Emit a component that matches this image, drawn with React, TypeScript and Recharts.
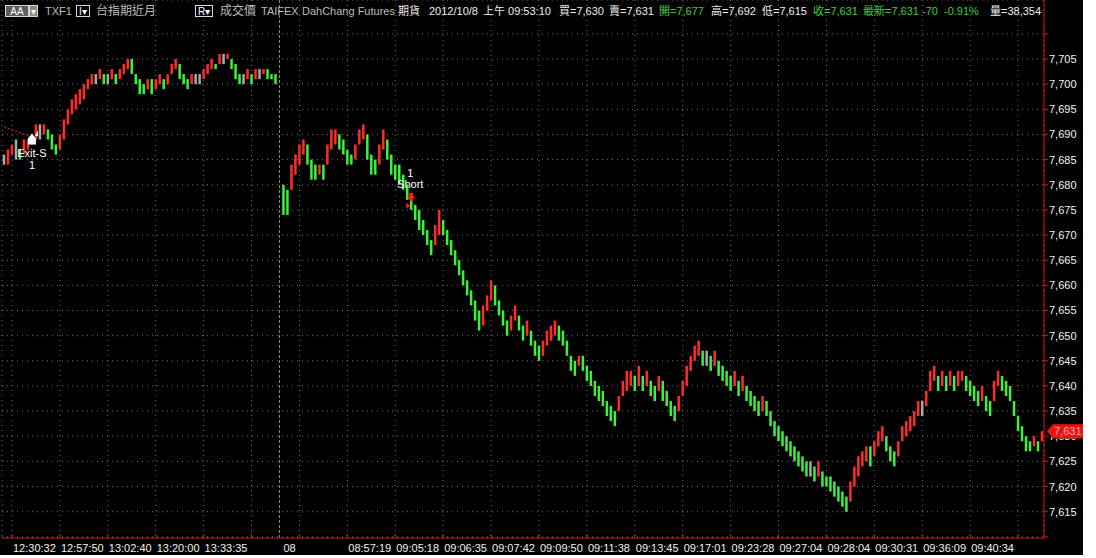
import {
  Bar,
  CartesianGrid,
  ComposedChart,
  ReferenceDot,
  ReferenceLine,
  XAxis,
  YAxis,
} from "recharts";

// afternoon session of the previous day (bar by bar, low / high)
const lows1 = [
  7684, 7684, 7686, 7685, 7685, 7686, 7687, 7688, 7689, 7689,
  7690, 7689, 7687, 7686, 7687, 7689, 7692, 7694, 7695, 7696,
  7697, 7699, 7700, 7700, 7701, 7700, 7700, 7701, 7700, 7701,
  7702, 7703, 7702, 7700, 7698, 7698, 7699, 7698, 7699, 7700,
  7699, 7700, 7702, 7703, 7701, 7700, 7699, 7700, 7700, 7700,
  7701, 7702, 7703, 7703, 7704, 7704, 7705, 7703, 7701, 7700,
  7700, 7701, 7700, 7701, 7701, 7702, 7701, 7701, 7700,
];
const highs1 = [
  7686, 7687, 7688, 7689, 7687, 7689, 7689, 7690, 7692, 7692,
  7692, 7691, 7690, 7688, 7690, 7693, 7695, 7697, 7698, 7699,
  7700, 7701, 7702, 7702, 7703, 7702, 7702, 7703, 7702, 7703,
  7704, 7705, 7705, 7702, 7701, 7700, 7701, 7701, 7701, 7702,
  7701, 7702, 7704, 7705, 7704, 7702, 7701, 7702, 7702, 7702,
  7703, 7704, 7705, 7704, 7706, 7706, 7706, 7705, 7704, 7702,
  7702, 7703, 7702, 7703, 7703, 7703, 7703, 7702, 7702,
];

// morning session of 10/8
const lows2 = [
  7674, 7674, 7679, 7682, 7684, 7686, 7684, 7681, 7681, 7682,
  7681, 7684, 7687, 7688, 7687, 7686, 7684, 7684, 7685, 7688,
  7689, 7685, 7682, 7682, 7684, 7687, 7685, 7682, 7681, 7680,
  7679, 7677, 7675, 7673, 7671, 7670, 7668, 7666, 7668, 7670,
  7670, 7668, 7666, 7664, 7662, 7660, 7658, 7656, 7653, 7651,
  7652, 7655, 7657, 7656, 7654, 7652, 7650, 7651, 7653, 7651,
  7649, 7650, 7648, 7646, 7645, 7646, 7648, 7649, 7650, 7649,
  7648, 7646, 7643, 7642, 7644, 7643, 7641, 7640, 7638, 7637,
  7636, 7634, 7633, 7632, 7635, 7638, 7639, 7640, 7639, 7640,
  7639, 7640, 7638, 7637, 7639, 7637, 7636, 7634, 7633, 7635,
  7638, 7640, 7643, 7645, 7646, 7644, 7644, 7643, 7644, 7642,
  7641, 7640, 7639, 7640, 7638, 7639, 7637, 7636, 7635, 7634,
  7635, 7634, 7632, 7630, 7629, 7628, 7627, 7626, 7625, 7624,
  7623, 7622, 7622, 7621, 7622, 7620, 7620, 7619, 7618, 7617,
  7616, 7615, 7617, 7620, 7622, 7624, 7625, 7624, 7626, 7628,
  7629, 7627, 7625, 7624, 7626, 7629, 7630, 7631, 7632, 7634,
  7634, 7636, 7639, 7641, 7639, 7640, 7639, 7640, 7639, 7640,
  7641, 7639, 7638, 7637, 7636, 7637, 7635, 7634, 7637, 7640,
  7639, 7638, 7637, 7634, 7631, 7629, 7627, 7627, 7628, 7627,
  7629,
];
const highs2 = [
  7680, 7679, 7684, 7686, 7688, 7689, 7688, 7685, 7684, 7684,
  7684, 7688, 7691, 7691, 7690, 7689, 7687, 7686, 7688, 7691,
  7692, 7690, 7686, 7685, 7688, 7691, 7689, 7686, 7684, 7684,
  7682, 7680, 7678, 7676, 7675, 7673, 7671, 7669, 7672, 7675,
  7673, 7671, 7669, 7667, 7665, 7663, 7661, 7659, 7657, 7655,
  7656, 7658, 7661, 7660, 7657, 7655, 7653, 7654, 7656, 7654,
  7652, 7653, 7651, 7649, 7648, 7649, 7651, 7652, 7653, 7652,
  7651, 7649, 7646, 7645, 7646, 7646, 7644, 7643, 7641, 7640,
  7639, 7637, 7636, 7635, 7638, 7641, 7643, 7643, 7642, 7644,
  7642, 7643, 7641, 7640, 7642, 7641, 7639, 7637, 7636, 7638,
  7641, 7644, 7646, 7648, 7649, 7647, 7647, 7646, 7647, 7645,
  7644, 7643, 7642, 7643, 7641, 7642, 7640, 7639, 7638, 7637,
  7638, 7637, 7635, 7633, 7632, 7631, 7630, 7629, 7628, 7627,
  7626, 7625, 7625, 7624, 7625, 7623, 7622, 7622, 7621, 7620,
  7619, 7618, 7621, 7624, 7626, 7627, 7628, 7628, 7629, 7631,
  7632, 7630, 7628, 7627, 7629, 7632, 7633, 7634, 7635, 7637,
  7637, 7639, 7643, 7644, 7642, 7643, 7642, 7643, 7642, 7643,
  7643, 7642, 7641, 7640, 7639, 7640, 7638, 7637, 7641, 7643,
  7642, 7641, 7640, 7637, 7634, 7632, 7630, 7629, 7630, 7629,
  7631,
];

const priceTicks = [
  7610, 7615, 7620, 7625, 7630, 7635, 7640, 7645, 7650, 7655, 7660,
  7665, 7670, 7675, 7680, 7685, 7690, 7695, 7700, 7705, 7710,
];

const timeTickIdx = [
  2, 14, 26, 38, 50, 62, 74, 86, 98, 110, 122,
  134, 146, 158, 170, 182, 194, 206, 218, 230, 242, 254,
];
const timeTickLabels = [
  "12:30:32", "12:57:50", "13:02:40", "13:20:00", "13:33:35", "", "",
  "08:57:19", "09:05:18", "09:06:35", "09:07:42", "09:09:50", "09:11:38",
  "09:13:45", "09:17:01", "09:23:28", "09:27:04", "09:28:04", "09:30:31",
  "09:36:09", "09:40:34", "",
];

const sessionBreak = 69; // empty slot between the two sessions
const lastPrice = 7631;

const lows: (number | null)[] = [...lows1, null, ...lows2];
const highs: (number | null)[] = [...highs1, null, ...highs2];

let prevMid: number | null = null;
const bars = lows.map((lo, i) => {
  const hi = highs[i];
  if (lo == null || hi == null) return { i, range: null, dir: 0 };
  const mid = (lo + hi) / 2;
  const dir = prevMid == null ? 0 : Math.sign(mid - prevMid);
  prevMid = mid;
  return { i, range: [lo, hi], dir };
});

const FONT = '"Liberation Sans", Arial, "Noto Sans CJK TC", sans-serif';
const AXIS_RED = "#d41010";
const UP = "#ff2b2b";
const DOWN = "#3cf03c";
const FLAT = "#a9a9a9";
const GREEN_TXT = "#3ccf3c";

function PriceBar(props: any) {
  const { x, y, width, height, payload } = props;
  if (!payload || !payload.range) return null;
  const c = payload.dir > 0 ? UP : payload.dir < 0 ? DOWN : FLAT;
  return (
    <rect x={x + 0.75} y={y} width={Math.max(width - 1.5, 1)} height={Math.max(height, 1)} fill={c} />
  );
}

function YTick(props: any) {
  const { x, y, payload } = props;
  const v = payload.value;
  const show = v > 7610 && v < 7710;
  return (
    <g>
      <line x1={x} y1={y} x2={x + 4} y2={y} stroke={AXIS_RED} />
      {show && (
        <text x={x + 5} y={y + 4} fill="#f2f2f2" fontSize={11} fontFamily={FONT}>
          {v.toLocaleString("en-US")}
        </text>
      )}
    </g>
  );
}

function XTick(props: any) {
  const { x, y, payload } = props;
  const label = timeTickLabels[timeTickIdx.indexOf(payload.value)];
  return (
    <g>
      <line x1={x} y1={y - 4} x2={x} y2={y} stroke={AXIS_RED} />
      {label && (
        <text x={x + 1} y={y + 14} fill="#f2f2f2" fontSize={11} fontFamily={FONT}>
          {label}
        </text>
      )}
    </g>
  );
}

function ExitMark(props: any) {
  const { cx, cy } = props;
  return (
    <g fontFamily={FONT} fontSize={11} fill="#fff">
      <path
        d={`M${cx - 4},${cy + 5} L${cx - 4},${cy - 1} L${cx},${cy - 6} L${cx + 4},${cy - 1} L${cx + 4},${cy + 5} Z`}
        fill="#fff"
      />
      <path d={`M${cx + 3},${cy - 4} L${cx + 6},${cy - 9} L${cx + 6},${cy - 3} Z`} fill="#fff" />
      <text x={cx} y={cy + 18} textAnchor="middle">Exit-S</text>
      <text x={cx} y={cy + 30} textAnchor="middle">1</text>
    </g>
  );
}

function ShortMark(props: any) {
  const { cx, cy } = props;
  return (
    <g fontFamily={FONT} fontSize={11}>
      <text x={cx - 1} y={cy - 23} textAnchor="middle" fill="#fff">1</text>
      <text x={cx - 1} y={cy - 12} textAnchor="middle" fill="#fff">Short</text>
      <rect x={cx - 2} y={cy - 7} width={4} height={4} fill="#ff1a1a" />
      <path d={`M${cx - 4},${cy - 3} L${cx + 4},${cy - 3} L${cx},${cy + 2} Z`} fill="#ff1a1a" />
      <path d={`M${cx - 5},${cy + 3} L${cx - 5},${cy + 9} L${cx - 1},${cy + 6} Z`} fill="#ff1a1a" />
    </g>
  );
}

function LastTag(props: any) {
  const { cx, cy } = props;
  const l = cx + 5;
  return (
    <g>
      <path
        d={`M${l},${cy} L${l + 6},${cy - 7} L${l + 36},${cy - 7} L${l + 36},${cy + 7} L${l + 6},${cy + 7} Z`}
        fill="#f01010"
      />
      <text x={l + 7} y={cy + 4} fill="#ffa8a8" fontSize={11} fontFamily={FONT}>
        {lastPrice.toLocaleString("en-US")}
      </text>
    </g>
  );
}

function BreakLabel(props: any) {
  const { viewBox } = props;
  if (!viewBox) return null;
  return (
    <text
      x={viewBox.x + 4}
      y={viewBox.y + viewBox.height + 14}
      fill="#f2f2f2"
      fontSize={11}
      fontFamily={FONT}
    >
      08
    </text>
  );
}

const txt = (left: number, s: string, color = "#eeeeee", size = 11) => (
  <span
    style={{
      position: "absolute",
      left,
      top: 4,
      fontSize: size,
      lineHeight: "14px",
      color,
      whiteSpace: "nowrap",
    }}
  >
    {s}
  </span>
);

function Header() {
  const box = (left: number, w: number, bg: string): React.CSSProperties => ({
    position: "absolute",
    left,
    top: 5,
    width: w,
    height: 12,
    background: bg,
    border: "1px solid #d8d8d8",
    color: "#fff",
    fontSize: 10,
    lineHeight: "12px",
    textAlign: "center",
    boxSizing: "border-box",
  });
  return (
    <div style={{ position: "absolute", left: 0, top: 0, width: 1044, height: 22, fontFamily: FONT }}>
      <div style={box(5, 24, "#5c5c5c")}>AA</div>
      <div style={box(29, 9, "#8a8a8a")}>▾</div>
      {txt(45, "TXF1", "#bdbdbd")}
      <div style={box(76, 14, "#000")}>I▾</div>
      {txt(96, "台指期近月", "#bdbdbd", 12)}
      <div style={box(195, 18, "#000")}>R▾</div>
      {txt(220, "成交價", "#bdbdbd", 12)}
      {txt(261, "TAIFEX", "#bdbdbd")}
      {txt(302, "DahChang Futures", "#bdbdbd")}
      {txt(398, "期貨")}
      {txt(429, "2012/10/8")}
      {txt(483, "上午 09:53:10")}
      {txt(559, "買=7,630")}
      {txt(609, "賣=7,631")}
      {txt(659, "開=7,677", GREEN_TXT)}
      {txt(711, "高=7,692")}
      {txt(762, "低=7,615")}
      {txt(813, "收=7,631", GREEN_TXT)}
      {txt(863, "最新=7,631", GREEN_TXT)}
      {txt(922, "-70", GREEN_TXT)}
      {txt(944, "-0.91%", GREEN_TXT)}
      {txt(990, "量=38,354")}
    </div>
  );
}

export default function App() {
  return (
    <div style={{ position: "relative", width: 1096, height: 558, background: "#fff" }}>
      <style>{"body{margin:0}"}</style>
      <div style={{ position: "absolute", left: 0, top: 0, width: 1083, height: 555, background: "#000" }}>
        <ComposedChart
          width={1083}
          height={555}
          data={bars}
          margin={{ top: 0, right: 0, bottom: 0, left: 2 }}
          barCategoryGap={0}
          barGap={0}
        >
          <CartesianGrid stroke="#707070" strokeDasharray="1 4" />
          <XAxis
            dataKey="i"
            type="category"
            ticks={timeTickIdx}
            interval={0}
            height={17}
            tickSize={0}
            tickMargin={0}
            tickLine={false}
            axisLine={{ stroke: AXIS_RED }}
            tick={<XTick />}
          />
          <YAxis
            orientation="right"
            type="number"
            width={39}
            domain={[7609.77, 7716.73]}
            allowDataOverflow
            ticks={priceTicks}
            interval={0}
            tickSize={0}
            tickMargin={0}
            tickLine={false}
            axisLine={{ stroke: AXIS_RED }}
            tick={<YTick />}
          />
          <ReferenceLine
            x={sessionBreak}
            stroke="#8c8c8c"
            strokeDasharray="3 2"
            label={<BreakLabel />}
          />
          <Bar dataKey="range" isAnimationActive={false} shape={<PriceBar />} />
          <ReferenceLine
            segment={[
              { x: 0, y: 7691.5 },
              { x: 6, y: 7689.8 },
            ]}
            stroke="#ff2020"
            strokeDasharray="2 2"
          />
          <ReferenceDot x={7} y={7689} shape={<ExitMark />} />
          <ReferenceDot x={102} y={7677} shape={<ShortMark />} />
          <ReferenceDot
            x={bars.length - 1}
            y={lastPrice}
            shape={<LastTag />}
            {...({ zIndex: 2500 } as any)}
          />
        </ComposedChart>
        <Header />
      </div>
    </div>
  );
}
